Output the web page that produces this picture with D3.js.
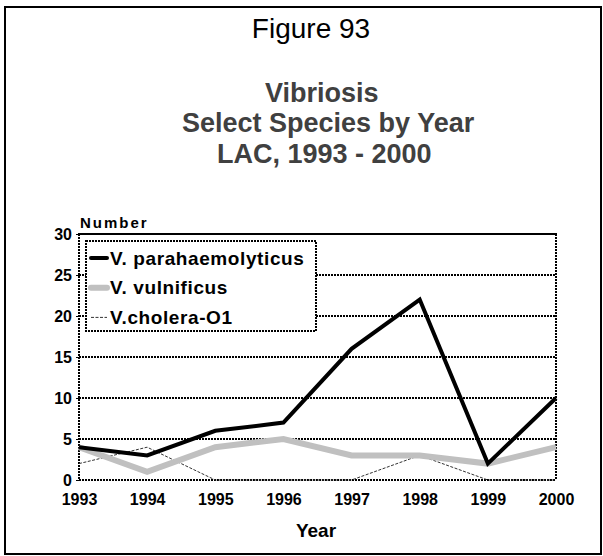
<!DOCTYPE html>
<html>
<head>
<meta charset="utf-8">
<script src="https://cdn.jsdelivr.net/npm/d3@7"></script>
<style>
  body { margin: 0; background: #fff; }
  svg text { font-family: Arial, "Liberation Sans", sans-serif; }
</style>
</head>
<body>
<div id="chart"></div>
<script>
// data
const years = [1993, 1994, 1995, 1996, 1997, 1998, 1999, 2000];
const parahaemolyticus = [4, 3, 6, 7, 16, 22, 2, 10];
const vulnificus = [4, 1, 4, 5, 3, 3, 2, 4];
const choleraO1 = [2, 4, 0, 0, 0, 3, 0, 0];
const yTicks = [0, 5, 10, 15, 20, 25, 30];

const series = [
  { name: 'V. parahaemolyticus', values: parahaemolyticus, color: '#000', width: 4, dash: null },
  { name: 'V. vulnificus', values: vulnificus, color: '#c0c0c0', width: 6, dash: null },
  { name: 'V.cholera-O1', values: choleraO1, color: '#333', width: 1, dash: '3,1.5' }
];

const W = 603, H = 556;
const plot = { left: 79, top: 234, right: 556, bottom: 480 };

const svg = d3.select('#chart').append('svg')
  .attr('width', W)
  .attr('height', H);

// outer frame
svg.append('rect')
  .attr('x', 5).attr('y', 7)
  .attr('width', 596).attr('height', 547)
  .attr('fill', 'none')
  .attr('stroke', '#000')
  .attr('stroke-width', 2);

// titles
svg.append('text')
  .attr('x', 311).attr('y', 38)
  .attr('text-anchor', 'middle')
  .attr('font-size', 28)
  .text('Figure 93');

const titleLines = [
  { text: 'Vibriosis', x: 265, y: 102 },
  { text: 'Select Species by Year', x: 182, y: 132 },
  { text: 'LAC, 1993 - 2000', x: 217, y: 163 }
];
svg.selectAll('.title')
  .data(titleLines)
  .join('text')
  .attr('class', 'title')
  .attr('x', d => d.x).attr('y', d => d.y)
  .attr('font-size', 27)
  .attr('font-weight', 'bold')
  .attr('fill', '#404040')
  .text(d => d.text);

const x = d3.scaleLinear()
  .domain([years[0], years[years.length - 1]])
  .range([plot.left, plot.right]);
const y = d3.scaleLinear()
  .domain([0, 30])
  .range([plot.bottom, plot.top]);

// gridlines (dotted)
svg.append('g')
  .selectAll('line')
  .data(yTicks.filter(t => t > 0 && t < 30))
  .join('line')
  .attr('x1', plot.left).attr('x2', plot.right)
  .attr('y1', d => y(d)).attr('y2', d => y(d))
  .attr('stroke', '#000')
  .attr('stroke-width', 2)
  .attr('stroke-dasharray', '2,1');

// plot border: dotted left/right/bottom, solid top
const dotted = [
  [plot.left, plot.top, plot.left, plot.bottom],
  [plot.right, plot.top, plot.right, plot.bottom],
  [plot.left, plot.bottom, plot.right, plot.bottom]
];
svg.append('g')
  .selectAll('line')
  .data(dotted)
  .join('line')
  .attr('x1', d => d[0]).attr('y1', d => d[1])
  .attr('x2', d => d[2]).attr('y2', d => d[3])
  .attr('stroke', '#000')
  .attr('stroke-width', 2)
  .attr('stroke-dasharray', '2,1');
svg.append('line')
  .attr('x1', plot.left - 1).attr('x2', plot.right + 1)
  .attr('y1', plot.top).attr('y2', plot.top)
  .attr('stroke', '#000')
  .attr('stroke-width', 2);

// y axis
const yAxis = svg.append('g')
  .attr('transform', `translate(${plot.left},0)`)
  .call(d3.axisLeft(y).tickValues(yTicks).tickSize(3).tickPadding(4));
yAxis.select('.domain').remove();
yAxis.selectAll('.tick line').attr('stroke-width', 1);
yAxis.selectAll('.tick text')
  .attr('font-size', 16)
  .attr('font-weight', 'bold')
  .attr('font-family', 'Arial, "Liberation Sans", sans-serif')
  .attr('fill', '#000');

// x axis labels
const xAxis = svg.append('g')
  .attr('transform', `translate(0,${plot.bottom})`)
  .call(d3.axisBottom(x).tickValues(years).tickFormat(d3.format('d')).tickSize(0).tickPadding(14));
xAxis.select('.domain').remove();
xAxis.selectAll('.tick text')
  .attr('font-size', 16)
  .attr('font-weight', 'bold')
  .attr('font-family', 'Arial, "Liberation Sans", sans-serif')
  .attr('fill', '#000');

svg.append('text')
  .attr('x', 80).attr('y', 228)
  .attr('font-size', 15)
  .attr('font-weight', 'bold')
  .attr('letter-spacing', 2)
  .text('Number');

svg.append('text')
  .attr('x', 316).attr('y', 537)
  .attr('text-anchor', 'middle')
  .attr('font-size', 19)
  .attr('font-weight', 'bold')
  .text('Year');

// series lines
const line = d3.line()
  .x((d, i) => x(years[i]))
  .y(d => y(d));

svg.append('g')
  .selectAll('path')
  .data([series[2], series[1], series[0]])
  .join('path')
  .attr('d', d => line(d.values))
  .attr('fill', 'none')
  .attr('stroke', d => d.color)
  .attr('stroke-width', d => d.width)
  .attr('stroke-dasharray', d => d.dash)
  .attr('stroke-linejoin', 'miter');

// legend
const legend = svg.append('g');
legend.append('rect')
  .attr('x', 86).attr('y', 241)
  .attr('width', 230).attr('height', 90)
  .attr('fill', '#fff')
  .attr('stroke', '#000')
  .attr('stroke-width', 2)
  .attr('stroke-dasharray', '2,1');

const rows = legend.selectAll('.row')
  .data(series)
  .join('g')
  .attr('class', 'row')
  .attr('transform', (d, i) => `translate(0,${258 + i * 29.7})`);
rows.append('line')
  .attr('x1', 91).attr('x2', 107)
  .attr('stroke', d => d.color)
  .attr('stroke-width', d => d.width)
  .attr('stroke-dasharray', d => d.dash)
  .attr('stroke-linecap', d => d.width > 3 ? 'round' : 'butt');
rows.append('text')
  .attr('x', 110).attr('y', 6.5)
  .attr('font-size', 19)
  .attr('font-weight', 'bold')
  .attr('letter-spacing', 0.6)
  .text(d => d.name);
</script>
</body>
</html>
